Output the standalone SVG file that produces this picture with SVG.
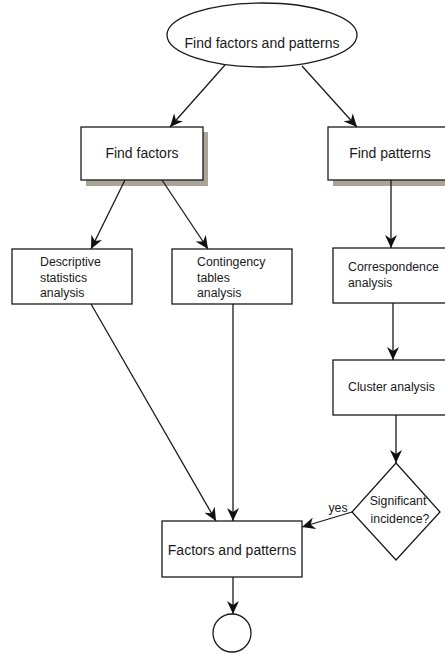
<svg xmlns="http://www.w3.org/2000/svg" width="445" height="654" viewBox="0 0 445 654">
<style>
.box{fill:#fff;stroke:#1a1a1a;stroke-width:1.3}
.shadow{fill:#aba597;stroke:none}
.ln{fill:none;stroke:#1a1a1a;stroke-width:1.3}
.big{font-family:"Liberation Sans",Arial,sans-serif;font-size:14px;fill:#1a1a1a}
.sm{font-family:"Liberation Sans",Arial,sans-serif;font-size:12.3px;fill:#1a1a1a}
</style>
<defs>
<marker id="ah" markerUnits="userSpaceOnUse" markerWidth="14" markerHeight="12" refX="13" refY="6" orient="auto" viewBox="0 0 14 12">
<path d="M0,0 L13,6 L0,12 L4,6 z" fill="#111"/>
</marker>
</defs>
<rect width="445" height="654" fill="#fff"/>
<g id="start">
<ellipse class="box" cx="262" cy="35" rx="95" ry="32"/>
<text class="big" x="262" y="48" text-anchor="middle">Find factors and patterns</text>
</g>
<g id="findFactors">
<rect class="shadow" x="86" y="132" width="122" height="54"/>
<rect class="box" x="81" y="127" width="122" height="53"/>
<text class="big" x="142" y="158" text-anchor="middle">Find factors</text>
</g>
<g id="findPatterns">
<rect class="shadow" x="333" y="132" width="124" height="54"/>
<rect class="box" x="328" y="127" width="124" height="53"/>
<text class="big" x="390" y="158" text-anchor="middle">Find patterns</text>
</g>
<g id="descriptive">
<rect class="box" x="12" y="249" width="120" height="55"/>
<text class="sm" x="40" y="266">Descriptive</text>
<text class="sm" x="40" y="282">statistics</text>
<text class="sm" x="40" y="297">analysis</text>
</g>
<g id="contingency">
<rect class="box" x="172" y="249" width="120" height="55"/>
<text class="sm" x="197" y="266">Contingency</text>
<text class="sm" x="197" y="282">tables</text>
<text class="sm" x="197" y="297">analysis</text>
</g>
<g id="correspondence">
<rect class="box" x="333" y="248" width="124" height="55"/>
<text class="sm" x="348" y="271">Correspondence</text>
<text class="sm" x="348" y="287">analysis</text>
</g>
<g id="cluster">
<rect class="box" x="333" y="360" width="124" height="55"/>
<text class="sm" x="348" y="391">Cluster analysis</text>
</g>
<g id="decision">
<polygon class="box" points="396,463 440,512 396,560 352,512"/>
<text class="sm" x="398" y="505" text-anchor="middle">Significant</text>
<text class="sm" x="400" y="523" text-anchor="middle">incidence?</text>
</g>
<g id="result">
<rect class="box" x="162" y="521" width="140" height="56"/>
<text class="big" x="232" y="555" text-anchor="middle">Factors and patterns</text>
</g>
<g id="end">
<circle class="box" cx="232" cy="633" r="19"/>
</g>
<g id="connectors">
<line class="ln" x1="225" y1="65" x2="170" y2="127" marker-end="url(#ah)"/>
<line class="ln" x1="302" y1="66" x2="357" y2="127" marker-end="url(#ah)"/>
<line class="ln" x1="125" y1="180" x2="91" y2="249" marker-end="url(#ah)"/>
<line class="ln" x1="162" y1="180" x2="208" y2="249" marker-end="url(#ah)"/>
<line class="ln" x1="391" y1="180" x2="391" y2="248" marker-end="url(#ah)"/>
<line class="ln" x1="91" y1="304" x2="216" y2="521" marker-end="url(#ah)"/>
<line class="ln" x1="233" y1="304" x2="233" y2="521" marker-end="url(#ah)"/>
<line class="ln" x1="393" y1="303" x2="393" y2="360" marker-end="url(#ah)"/>
<line class="ln" x1="396" y1="415" x2="396" y2="463" marker-end="url(#ah)"/>
<line class="ln" x1="352" y1="512" x2="302" y2="527" marker-end="url(#ah)"/>
<line class="ln" x1="233" y1="577" x2="233" y2="614" marker-end="url(#ah)"/>
<text class="sm" x="338" y="512" text-anchor="middle">yes</text>
</g>
</svg>
